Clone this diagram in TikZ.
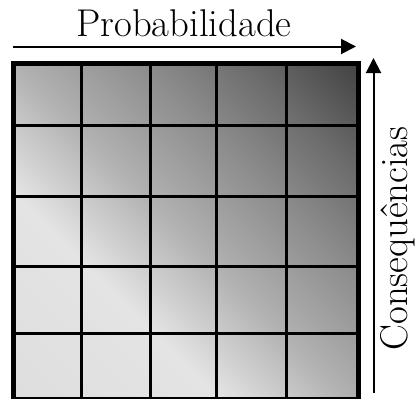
\documentclass[tikz,border=0pt]{standalone}
\usepackage{tikz}
\usetikzlibrary{arrows.meta,positioning}
\definecolor{Ink}{HTML}{000000}
\definecolor{GridLight}{HTML}{E4E4E4}
\definecolor{GridPale}{HTML}{DEDEDE}
\definecolor{GridMid}{HTML}{B0B0B0}
\definecolor{GridDim}{HTML}{8A8A8A}
\definecolor{GridDeep}{HTML}{686868}
\definecolor{GridDark}{HTML}{434343}
\pgfdeclarehorizontalshading{riskShade}{100bp}{color(0bp)=(GridPale); color(14.6bp)=(GridPale); color(36bp)=(GridLight); color(50bp)=(GridMid); color(64bp)=(GridDim); color(75bp)=(GridDeep); color(85.4bp)=(GridDark); color(100bp)=(GridDark)}
\tikzset{
  axisLabel/.style={text=Ink,inner sep=0pt,font=\fontsize{38.7}{46}\selectfont},
  axisArrow/.style={-{Triangle[length=15pt,width=15pt]},line width=2pt,draw=Ink},
  riskGrid/.style={draw=Ink,line width=3pt,shading=riskShade,shading angle=45,inner sep=0pt,anchor=north west},
  cellLine/.style={draw=Ink,line width=3pt}
}
\begin{document}
\begin{tikzpicture}[x=1pt,y=-1pt]
\useasboundingbox (0,0) rectangle (418,399);
\node[riskGrid,minimum width=343.6pt,minimum height=334pt] (grid) at (12.7,62.7) {};
\foreach \cx in {81.7,150,216.5,286.7} \draw[cellLine] (\cx,62.7)--(\cx,396.7);
\foreach \cy in {125.7,196,266.5,333} \draw[cellLine] (12.7,\cy)--(356.3,\cy);
\draw[cellLine] (grid.north west) rectangle (grid.south east);
\node[axisLabel,anchor=base] (prob) at (184,36.7) {Probabilidade};
\node[axisLabel,anchor=base,rotate=90] (cons) at (407,238.5) {Consequências};
\coordinate (probFrom) at (13,46.5);
\coordinate (probTo) at (356,46.5);
\coordinate (consFrom) at (373.5,393);
\coordinate (consTo) at (373.5,58);
\draw[axisArrow] (probFrom)--(probTo);\draw[axisArrow] (consFrom)--(consTo);
\end{tikzpicture}
\end{document}
